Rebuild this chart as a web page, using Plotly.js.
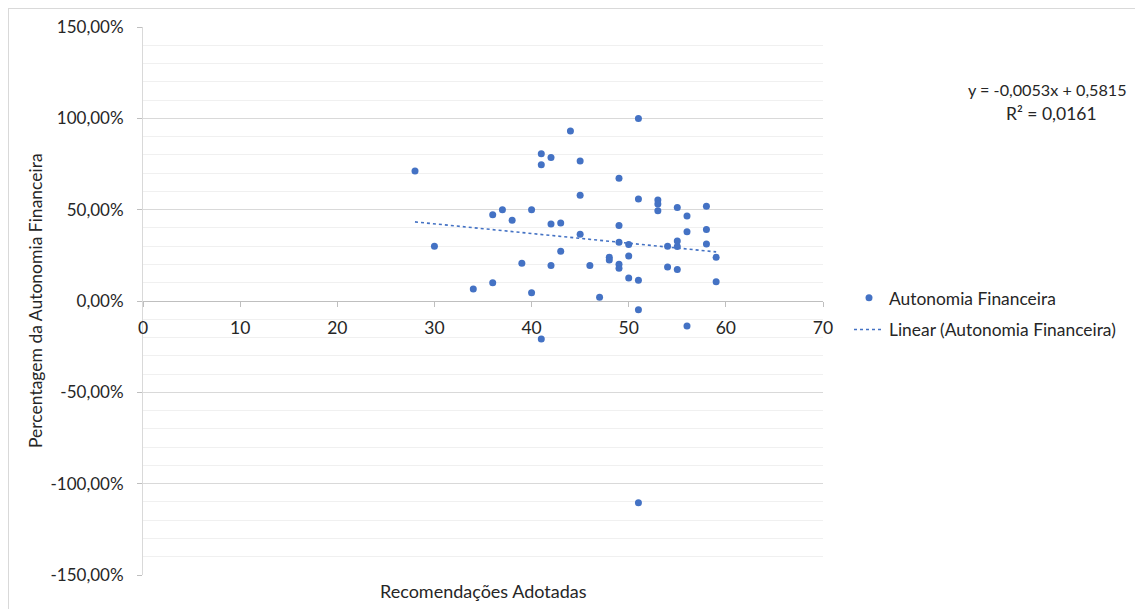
<!DOCTYPE html>
<html>
<head>
<meta charset="utf-8">
<script src="https://cdn.plot.ly/plotly-3.0.1.min.js"></script>
<style>
html, body { margin: 0; padding: 0; background: #ffffff; }
#wrap { position: relative; width: 1135px; height: 609px; overflow: hidden; }
#chart { width: 1135px; height: 609px; }
#frame { position: absolute; left: 8px; top: 8px; width: 1200px; height: 700px;
  border-left: 1px solid #d9d9d9; border-top: 1px solid #d9d9d9; pointer-events: none; }
</style>
</head>
<body>
<div id="wrap"><div id="chart"></div><div id="frame"></div></div>
<script>
// Recomendações adotadas (x) and Autonomia Financeira (y, as fraction)
const recomendacoes = [
  28, 30, 34, 36, 36, 37, 38, 39, 40, 40,
  41, 41, 41, 42, 42, 42, 43, 43, 44, 45,
  45, 45, 46, 47, 48, 48, 49, 49, 49, 49,
  49, 50, 50, 50, 51, 51, 51, 51, 51, 53,
  53, 53, 54, 54, 55, 55, 55, 55, 56, 56,
  56, 58, 58, 58, 59, 59
];
const autonomia = [
  0.712, 0.300, 0.066, 0.100, 0.472, 0.499, 0.442, 0.207, 0.499, 0.045,
  0.806, 0.746, -0.208, 0.786, 0.421, 0.194, 0.427, 0.273, 0.931, 0.766,
  0.579, 0.366, 0.194, 0.020, 0.240, 0.224, 0.672, 0.414, 0.321, 0.201,
  0.179, 0.247, 0.309, 0.126, 0.999, 0.558, 0.114, -0.048, -1.105, 0.553,
  0.531, 0.494, 0.300, 0.186, 0.512, 0.329, 0.298, 0.172, 0.466, 0.379,
  -0.137, 0.519, 0.392, 0.312, 0.239, 0.106
];
// Linear trendline as displayed on the chart
const trendSlope = -0.0053;
const trendIntercept = 0.5815;
const rSquared = 0.0161;

const seriesName = "Autonomia Financeira";
const trendName = "Linear (Autonomia Financeira)";
const xTickVals = [0, 10, 20, 30, 40, 50, 60, 70];
const yTickVals = [-1.5, -1.0, -0.5, 0, 0.5, 1.0, 1.5];
const yTickText = ["-150,00%", "-100,00%", "-50,00%", "0,00%", "50,00%", "100,00%", "150,00%"];

const xMin = Math.min(...recomendacoes);
const xMax = Math.max(...recomendacoes);
const trendX = [xMin, xMax];
const trendY = trendX.map(v => trendSlope * v + trendIntercept);

const fmt = (v, d) => v.toFixed(d).replace('.', ',');
const eqText = "y = " + fmt(trendSlope, 4) + "x + " + fmt(trendIntercept, 4);
const r2Text = "R² = " + fmt(rSquared, 4);

const FONT = "Lato, 'Open Sans', sans-serif";
const TXT = "#262626";
const BLUE = "#4472C4";

const traces = [
  {
    type: "scatter", mode: "markers", name: seriesName,
    x: recomendacoes, y: autonomia,
    marker: { color: BLUE, size: 7 },
    legendgroup: "a", hoverinfo: "x+y"
  },
  {
    type: "scatter", mode: "lines", name: trendName,
    x: trendX, y: trendY,
    line: { color: BLUE, width: 1.6, dash: "dot" },
    legendgroup: "b", hoverinfo: "skip"
  }
];

const L = 143, R = 823, T = 27, B = 575;
const W = 1135, H = 609;
const px2x = p => (p - L) / (R - L);
const px2y = p => (B - p) / (B - T);

const layout = {
  width: W, height: H,
  margin: { l: L, r: W - R, t: T, b: H - B, pad: 0 },
  paper_bgcolor: "#ffffff", plot_bgcolor: "#ffffff",
  separators: ", ",
  font: { family: FONT, size: 17, color: TXT },
  showlegend: true,
  legend: {
    x: px2x(849), xanchor: "left",
    y: px2y(280), yanchor: "top",
    traceorder: "grouped", tracegroupgap: 6,
    font: { family: FONT, size: 17.4, color: TXT },
    bgcolor: "rgba(0,0,0,0)", borderwidth: 0
  },
  xaxis: {
    range: [0, 70], tickvals: xTickVals, ticktext: xTickVals.map(String),
    anchor: "free", position: 0.5,
    showgrid: false, zeroline: false,
    showline: true, linecolor: "#bfbfbf", linewidth: 1,
    ticks: "outside", ticklen: 5, tickcolor: "#bfbfbf", tickwidth: 1,
    ticklabelstandoff: 6,
    tickfont: { family: FONT, size: 17.5, color: TXT },
    fixedrange: true
  },
  yaxis: {
    range: [-1.5, 1.5], tickvals: yTickVals, ticktext: yTickText,
    showgrid: true, gridcolor: "#d9d9d9", gridwidth: 1,
    zeroline: false,
    showline: true, linecolor: "#d9d9d9", linewidth: 1,
    ticks: "outside", ticklen: 5, tickcolor: "#bfbfbf", tickwidth: 1,
    ticklabelstandoff: 10,
    tickfont: { family: FONT, size: 17, color: TXT },
    minor: { dtick: 0.1, showgrid: true, gridcolor: "#f0f0f0", gridwidth: 1, ticks: "" },
    fixedrange: true
  },
  annotations: [
    { text: "Recomendações Adotadas", xref: "paper", yref: "paper",
      x: 0.5, y: px2y(591), xanchor: "center", yanchor: "middle",
      showarrow: false, font: { family: FONT, size: 18, color: TXT } },
    { text: "Percentagem da Autonomia Financeira", xref: "paper", yref: "paper",
      x: px2x(35), y: 0.5, xanchor: "center", yanchor: "middle", textangle: -90,
      showarrow: false, font: { family: FONT, size: 17.5, color: TXT } },
    { text: eqText, xref: "paper", yref: "paper",
      x: px2x(1047), y: px2y(89), xanchor: "center", yanchor: "middle",
      showarrow: false, font: { family: FONT, size: 16.2, color: TXT } },
    { text: r2Text, xref: "paper", yref: "paper",
      x: px2x(1051), y: px2y(114), xanchor: "center", yanchor: "middle",
      showarrow: false, font: { family: FONT, size: 17.5, color: TXT } }
  ]
};

Plotly.newPlot("chart", traces, layout, { staticPlot: true, displayModeBar: false });
</script>
</body>
</html>
